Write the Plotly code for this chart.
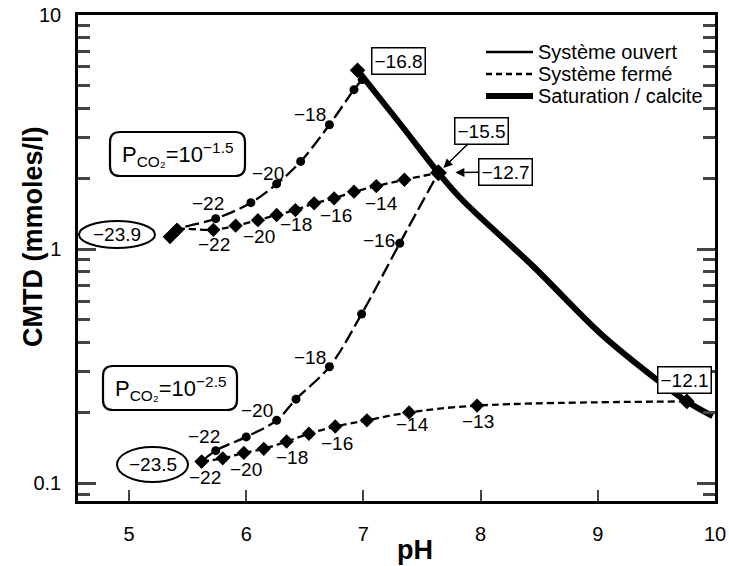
import math
import plotly.graph_objects as go

# ---------------- data ----------------
# P_CO2 = 10^-1.5, open system
ph_open_hi = [5.35, 5.41, 5.74, 6.04, 6.26, 6.465, 6.71, 6.92, 6.99]
c_open_hi = [1.13, 1.21, 1.35, 1.58, 1.90, 2.37, 3.40, 4.80, 5.30]
# P_CO2 = 10^-1.5, closed system
ph_closed_hi = [5.35, 5.41, 5.72, 5.91, 6.10, 6.26, 6.42, 6.58, 6.75, 6.92, 7.11, 7.35, 7.64]
c_closed_hi = [1.13, 1.21, 1.21, 1.26, 1.33, 1.40, 1.47, 1.57, 1.65, 1.76, 1.86, 1.98, 2.12]
# P_CO2 = 10^-2.5, open system
ph_open_lo = [5.62, 5.74, 6.00, 6.26, 6.425, 6.71, 6.985, 7.31, 7.64]
c_open_lo = [0.124, 0.138, 0.158, 0.186, 0.229, 0.315, 0.529, 1.06, 2.12]
# P_CO2 = 10^-2.5, closed system
ph_closed_lo = [5.62, 5.80, 5.98, 6.15, 6.345, 6.535, 6.76, 7.03, 7.39, 7.97, 9.76]
c_closed_lo = [0.124, 0.128, 0.135, 0.1405, 0.151, 0.163, 0.175, 0.186, 0.201, 0.215, 0.224]
# calcite saturation line
ph_sat = [6.95, 7.31, 7.64, 7.84, 8.45, 9.02, 9.47, 9.76, 9.98]
c_sat = [5.81, 3.45, 2.12, 1.63, 0.844, 0.438, 0.286, 0.224, 0.194]

x_ticks = [5, 6, 7, 8, 9, 10]
y_ticks = [0.1, 1, 10]
y_tick_text = ["0.1", "1", "10"]
legend_names = ["Système ouvert", "Système fermé", "Saturation / calcite"]

# point labels: (text, series pH, series C)
labels_open_hi = [("−22", 5.74, 1.35), ("−20", 6.26, 1.90), ("−18", 6.71, 3.40)]
labels_closed_hi = [("−22", 5.72, 1.21), ("−20", 6.10, 1.33), ("−18", 6.26, 1.40),
                    ("−16", 6.58, 1.57), ("−14", 7.11, 1.86)]
labels_open_lo = [("−22", 5.74, 0.138), ("−20", 6.26, 0.186), ("−18", 6.71, 0.315),
                  ("−16", 7.31, 1.06)]
labels_closed_lo = [("−22", 5.62, 0.124), ("−20", 5.98, 0.135), ("−18", 6.345, 0.151),
                    ("−16", 6.76, 0.175), ("−14", 7.39, 0.201), ("−13", 7.97, 0.215)]

# ---------------- layout constants ----------------
W, H = 729, 566
ML, MR, MT, MB = 78, 14, 15, 65
PW, PH_ = W - ML - MR, H - MT - MB
X_RANGE = [4.565, 10.0]
Y_RANGE = [-1.075, 1.0]
FONT = "Liberation Sans, Arial, Helvetica, sans-serif"


def px2paper(px, py):
    return (px - ML) / PW, (H - MB - py) / PH_


fig = go.Figure()

OPEN_DASH = "14px,5px"
CLOSED_DASH = "7px,4px"


def mk(size, symbol):
    return dict(color="black", size=size, symbol=symbol, opacity=1, line=dict(width=0))


fig.add_trace(go.Scatter(
    x=ph_open_hi, y=c_open_hi, mode="lines+markers", showlegend=False,
    line=dict(color="black", width=2.3, dash=OPEN_DASH, shape="spline"),
    marker=mk([11, 11] + [9] * 7, ["diamond", "diamond"] + ["circle"] * 7)))
fig.add_trace(go.Scatter(
    x=ph_closed_hi, y=c_closed_hi, mode="lines+markers", showlegend=False,
    line=dict(color="black", width=2.3, dash=CLOSED_DASH, shape="spline"),
    marker=mk(11, "diamond")))
fig.add_trace(go.Scatter(
    x=ph_open_lo, y=c_open_lo, mode="lines+markers", showlegend=False,
    line=dict(color="black", width=2.3, dash=OPEN_DASH, shape="spline"),
    marker=mk([11] + [9] * 7 + [12], ["diamond"] + ["circle"] * 7 + ["diamond"])))
fig.add_trace(go.Scatter(
    x=ph_closed_lo, y=c_closed_lo, mode="lines+markers", showlegend=False,
    line=dict(color="black", width=2.3, dash=CLOSED_DASH, shape="spline"),
    marker=mk(11, "diamond")))
fig.add_trace(go.Scatter(
    x=ph_sat, y=c_sat, mode="lines+markers", showlegend=False,
    line=dict(color="black", width=6, shape="spline"),
    marker=mk([12, 0, 13, 0, 0, 0, 0, 12, 0], "diamond")))

annotations = []
shapes = []
LBL = dict(family=FONT, size=19, color="black")


def add_labels(items, offsets):
    for (t, xv, yv), (dx, dy) in zip(items, offsets):
        annotations.append(dict(x=xv, y=math.log10(yv), xref="x", yref="y", text=t,
                                showarrow=False, xshift=dx, yshift=dy, font=LBL))


add_labels(labels_open_hi, [(-8, 15), (-9, 10), (-19, 10)])
add_labels(labels_closed_hi, [(1, -15), (1, -16), (19, -10), (22, -12), (5, -17)])
add_labels(labels_open_lo, [(-12, 14), (-20, 10), (-19, 9), (-21, 3)])
add_labels(labels_closed_lo, [(3, -16), (2, -17), (5, -16), (2, -17), (3, -12), (1, -16)])

BOX = dict(showarrow=False, bordercolor="black", borderwidth=1.5, borderpad=2,
           bgcolor="white", font=LBL, xref="x", yref="y")
annotations.append(dict(BOX, x=ph_sat[0], y=math.log10(c_sat[0]), text="−16.8",
                        xshift=41, yshift=9))
annotations.append(dict(BOX, x=ph_sat[7], y=math.log10(c_sat[7]), text="−12.1",
                        xshift=-2, yshift=21))
annotations.append(dict(BOX, x=ph_sat[2], y=math.log10(c_sat[2]), text="−15.5",
                        showarrow=True, ax=43, ay=-42, arrowhead=2, arrowsize=1.2,
                        arrowwidth=1.5, arrowcolor="black", standoff=7))
annotations.append(dict(BOX, x=ph_sat[2], y=math.log10(c_sat[2]), text="−12.7",
                        showarrow=True, ax=67, ay=-1, arrowhead=2, arrowsize=1.2,
                        arrowwidth=1.5, arrowcolor="black", standoff=17))

# legend drawn by hand (tighter row spacing than plotly's legend)
legend_styles = [dict(width=2.5), dict(width=2.5, dash="6px,4px"), dict(width=6)]
for name, style, row_y in zip(legend_names, legend_styles, [52, 74, 96]):
    a0, b = px2paper(486, row_y)
    a1, _ = px2paper(533, row_y)
    shapes.append(dict(type="line", xref="paper", yref="paper", x0=a0, x1=a1, y0=b, y1=b,
                       line=dict(color="black", **style), layer="above"))
    tx, _ = px2paper(536, row_y)
    annotations.append(dict(x=tx, y=b, xref="paper", yref="paper", text=name,
                            showarrow=False, xanchor="left", yanchor="middle",
                            font=dict(family=FONT, size=20, color="black")))

# ellipse labels for starting points
for (x0, y0, x1, y1), t in [((79, 221, 155, 248), "−23.9"), ((117, 447, 188, 482), "−23.5")]:
    a0, b0 = px2paper(x0, y1)
    a1, b1 = px2paper(x1, y0)
    shapes.append(dict(type="circle", xref="paper", yref="paper", x0=a0, y0=b0, x1=a1, y1=b1,
                       line=dict(color="black", width=2), fillcolor="white", layer="above"))
    cx, cy = px2paper((x0 + x1) / 2, (y0 + y1) / 2)
    annotations.append(dict(x=cx, y=cy, xref="paper", yref="paper", text=t, showarrow=False,
                            font=LBL, xanchor="center", yanchor="middle"))


def rounded_rect(x0, y0, x1, y1, r):
    rx, ry = r / PW, r / PH_
    a0, b0 = px2paper(x0, y1)
    a1, b1 = px2paper(x1, y0)
    return (f"M {a0+rx},{b0} L {a1-rx},{b0} Q {a1},{b0} {a1},{b0+ry} "
            f"L {a1},{b1-ry} Q {a1},{b1} {a1-rx},{b1} L {a0+rx},{b1} "
            f"Q {a0},{b1} {a0},{b1-ry} L {a0},{b0+ry} Q {a0},{b0} {a0+rx},{b0} Z")


for (x0, y0, x1, y1), t in [((110, 132, 245, 176), "P<sub>CO₂</sub>=10<sup>−1.5</sup>"),
                            ((103, 366, 237, 410), "P<sub>CO₂</sub>=10<sup>−2.5</sup>")]:
    shapes.append(dict(type="path", xref="paper", yref="paper",
                       path=rounded_rect(x0, y0, x1, y1, 10),
                       line=dict(color="black", width=2.2), fillcolor="white", layer="above"))
    cx, cy = px2paper((x0 + x1) / 2, (y0 + y1) / 2)
    annotations.append(dict(x=cx, y=cy, xref="paper", yref="paper", text=t, showarrow=False,
                            font=dict(family=FONT, size=22, color="black"),
                            xanchor="center", yanchor="middle"))

# axis titles
tx, ty = px2paper(33, 237)
annotations.append(dict(x=tx, y=ty, xref="paper", yref="paper", text="<b>CMTD (mmoles/l)</b>",
                        textangle=-90, showarrow=False, xanchor="center", yanchor="middle",
                        font=dict(family=FONT, size=27, color="black")))
tx, ty = px2paper(415, 550)
annotations.append(dict(x=tx, y=ty, xref="paper", yref="paper", text="<b>pH</b>",
                        showarrow=False, xanchor="center", yanchor="middle",
                        font=dict(family=FONT, size=27, color="black")))

fig.update_layout(
    width=W, height=H,
    margin=dict(l=ML, r=MR, t=MT, b=MB, autoexpand=False),
    paper_bgcolor="white", plot_bgcolor="white",
    font=dict(family=FONT, size=20, color="black"),
    showlegend=False,
    annotations=annotations,
    shapes=shapes,
    xaxis=dict(range=X_RANGE, tickvals=x_ticks, ticks="inside", ticklen=11, tickwidth=1.5,
               showline=True, linewidth=2.5, linecolor="black", mirror=True,
               showgrid=False, zeroline=False, tickfont=dict(size=20),
               ticklabelstandoff=13),
    yaxis=dict(type="log", range=Y_RANGE, tickvals=y_ticks, ticktext=y_tick_text,
               ticks="inside", ticklen=18, tickwidth=2.5,
               minor=dict(ticks="inside", ticklen=12, tickwidth=2.5, dtick="D1",
                          showgrid=False),
               showline=True, linewidth=2.5, linecolor="black", mirror="ticks",
               showgrid=False, zeroline=False, tickfont=dict(size=20),
               ticklabelstandoff=10),
)

fig.write_html("out.html", config={"displayModeBar": False},
               post_script="document.body.style.margin='0';document.body.style.overflow='hidden';")
